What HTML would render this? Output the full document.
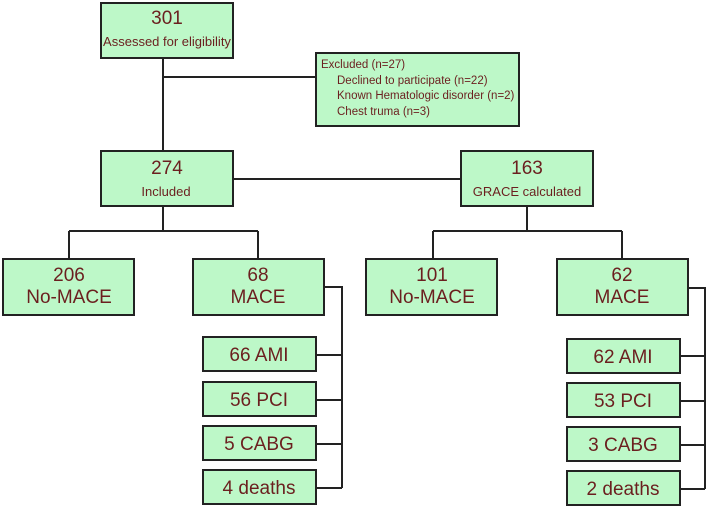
<!DOCTYPE html>
<html><head><style>body{margin:0;background:#fff}svg{display:block}</style></head><body>
<svg width="708" height="509" xmlns="http://www.w3.org/2000/svg" font-family="Liberation Sans, sans-serif" fill="#6b1f1f">
<g stroke="#222" stroke-width="2" fill="none">
<path d="M163 58V151M163 77H316M233 179H461"/>
<path d="M163 206V231M69 231H258M69 231V259M258 231V259"/>
<path d="M527 206V231M433 231H622M433 231V259M622 231V259"/>
<path d="M324 287H342V488M316 355H342M316 400H342M316 444H342M316 488H342"/>
<path d="M688 288H705V489M680 356H705M680 401H705M680 445H705M680 489H705"/>
</g>
<g fill="#bdf8c8" stroke="#222" stroke-width="2">
<rect x="101" y="3" width="132" height="55"/>
<rect x="316" y="53" width="203" height="73"/>
<rect x="101" y="151" width="132" height="55"/>
<rect x="461" y="151" width="132" height="55"/>
<rect x="3" y="259" width="131" height="56"/>
<rect x="193" y="259" width="131" height="56"/>
<rect x="366" y="259" width="131" height="56"/>
<rect x="557" y="259" width="131" height="56"/>
<rect x="203" y="337" width="113" height="34"/>
<rect x="203" y="382" width="113" height="34"/>
<rect x="203" y="426" width="113" height="34"/>
<rect x="203" y="470" width="113" height="34"/>
<rect x="567" y="339" width="113" height="34"/>
<rect x="567" y="383" width="113" height="34"/>
<rect x="567" y="427" width="113" height="34"/>
<rect x="567" y="471" width="113" height="34"/>
</g>
<g text-anchor="middle" font-size="19">
<text x="167" y="24">301</text>
<text x="167" y="174">274</text>
<text x="527" y="174">163</text>
<text x="69" y="281">206</text><text x="69" y="303">No-MACE</text>
<text x="258" y="281">68</text><text x="258" y="303">MACE</text>
<text x="432" y="281">101</text><text x="432" y="303">No-MACE</text>
<text x="622" y="281">62</text><text x="622" y="303">MACE</text>
<text x="259" y="361">66 AMI</text>
<text x="259" y="406">56 PCI</text>
<text x="259" y="450">5 CABG</text>
<text x="259" y="494">4 deaths</text>
<text x="623" y="363">62 AMI</text>
<text x="623" y="407">53 PCI</text>
<text x="623" y="451">3 CABG</text>
<text x="623" y="495">2 deaths</text>
</g>
<g text-anchor="middle" font-size="13">
<text x="167" y="46">Assessed for eligibility</text>
<text x="166" y="196">Included</text>
<text x="527" y="196">GRACE calculated</text>
</g>
<g font-size="11.5">
<text x="321" y="68">Excluded (n=27)</text>
<text x="337" y="84">Declined to participate (n=22)</text>
<text x="337" y="99">Known Hematologic disorder (n=2)</text>
<text x="337" y="115">Chest truma (n=3)</text>
</g>
</svg>
</body></html>
